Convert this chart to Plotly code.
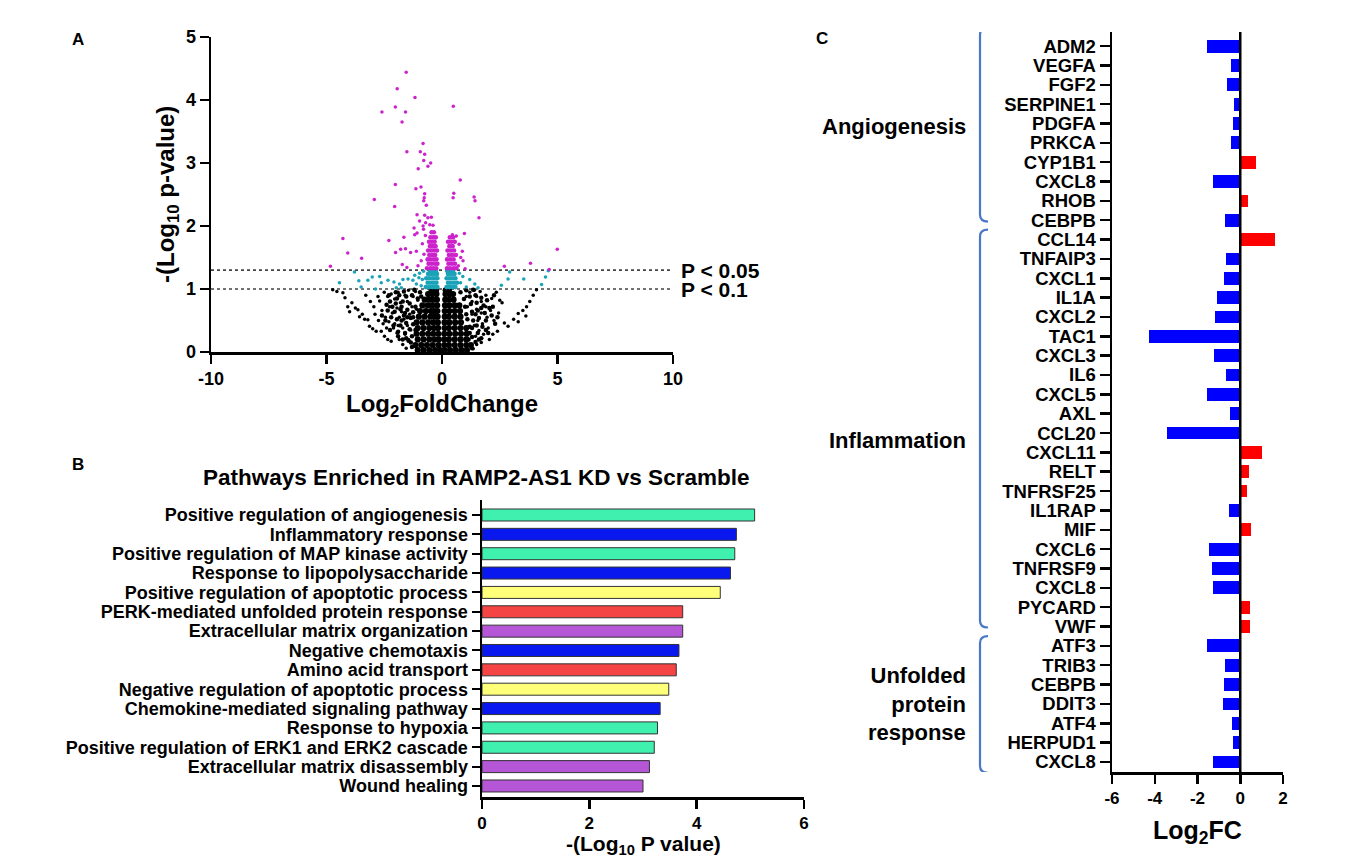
import plotly.graph_objects as go

# ---------------- DATA ----------------
# Panel A: volcano plot points (log2 fold change, -log10 p)
black_core_pts = [
    (-1.05,0.03),(-0.8,0.03),(-0.55,0.03),(-0.3,0.03),(-0.08,0.03),(0.12,0.03),(0.35,0.03),(0.6,0.03),(0.85,0.03),(1.08,0.03),
    (-1.15,0.11),(-0.9,0.11),(-0.65,0.11),(-0.4,0.11),(-0.15,0.11),(0.1,0.11),(0.3,0.11),(0.55,0.11),(0.8,0.11),(1.05,0.11),(1.25,0.11),
    (-1.05,0.2),(-0.8,0.2),(-0.55,0.2),(-0.32,0.2),(-0.14,0.2),(0.1,0.2),(0.3,0.2),(0.55,0.2),(0.8,0.2),(1.05,0.2),
    (-1.1,0.29),(-0.85,0.29),(-0.6,0.29),(-0.38,0.29),(-0.16,0.29),(0.1,0.29),(0.32,0.29),(0.57,0.29),(0.82,0.29),(1.07,0.29),
    (-1.05,0.38),(-0.8,0.38),(-0.55,0.38),(-0.35,0.38),(-0.17,0.38),(0.11,0.38),(0.3,0.38),(0.55,0.38),(0.8,0.38),(1.05,0.38),
    (-1.1,0.47),(-0.85,0.47),(-0.6,0.47),(-0.38,0.47),(-0.18,0.47),(0.11,0.47),(0.32,0.47),(0.57,0.47),(0.82,0.47),
    (-1.0,0.56),(-0.75,0.56),(-0.5,0.56),(-0.32,0.56),(-0.19,0.56),(0.12,0.56),(0.3,0.56),(0.55,0.56),(0.8,0.56),
    (-0.95,0.65),(-0.7,0.65),(-0.48,0.65),(-0.34,0.65),(-0.2,0.65),(0.12,0.65),(0.32,0.65),(0.55,0.65),(0.78,0.65),
    (-0.85,0.74),(-0.62,0.74),(-0.42,0.74),(-0.21,0.74),(0.13,0.74),(0.32,0.74),(0.55,0.74),(0.75,0.74),
    (-0.75,0.83),(-0.55,0.83),(-0.38,0.83),(-0.22,0.83),(0.14,0.83),(0.3,0.83),(0.5,0.83),
    (-0.6,0.92),(-0.42,0.92),(-0.24,0.92),(0.15,0.92),(0.32,0.92),(0.48,0.92),
    (-0.45,0.98),(-0.26,0.98),(0.16,0.98),(0.3,0.98),
]
black_mid_pts = [
    (-1.3,0.08),(-1.45,0.18),(-1.3,0.25),(-1.6,0.3),(-1.4,0.36),(-1.25,0.44),(-1.55,0.46),(-1.8,0.42),
    (-1.35,0.54),(-1.65,0.58),(-1.95,0.52),(-2.2,0.55),(-1.25,0.63),(-1.5,0.67),(-1.8,0.68),(-2.05,0.64),
    (-2.35,0.66),(-1.15,0.72),(-1.4,0.77),(-1.7,0.8),(-2.0,0.77),(-2.25,0.8),(-1.05,0.85),(-1.3,0.9),
    (-1.55,0.88),(-1.85,0.9),(-0.95,0.95),(-1.2,0.99),(-1.7,0.2),(-1.9,0.32),(-2.1,0.42),(-2.45,0.5),
    (-1.15,0.35),(-0.9,0.88),(-2.6,0.58),(-2.4,0.75),(-2.15,0.72),(-1.95,0.85),(-1.75,0.72),(-1.6,0.62),
    (-1.75,0.5),(-1.5,0.55),(-1.25,0.55),(-2.25,0.35),(-1.9,0.25),(-1.55,0.22),(-1.35,0.15),(-2.0,0.95),
    (-1.65,0.96),(-2.3,0.9),
    (1.3,0.06),(1.45,0.16),(1.3,0.24),(1.55,0.3),(1.3,0.38),(1.5,0.42),(1.75,0.4),(1.1,0.52),
    (1.35,0.5),(1.6,0.54),(1.9,0.5),(1.05,0.6),(1.3,0.64),(1.55,0.66),(1.85,0.62),(2.15,0.58),
    (1.0,0.72),(1.25,0.76),(1.5,0.78),(1.8,0.74),(2.05,0.7),(0.95,0.84),(1.2,0.88),(1.45,0.9),
    (1.7,0.86),(0.8,0.95),(1.05,0.98),(1.35,0.99),(2.0,0.3),(2.3,0.45),(1.7,0.22),(1.2,0.4),
    (1.45,0.6),(1.7,0.7),(1.95,0.82),(2.2,0.72),(1.2,0.3),(1.6,0.2),(2.4,0.55),(1.9,0.35),
    (1.15,0.2),(2.25,0.9),
]
black_sparse_pts = [
    (-4.73,0.99),(-4.55,0.96),(-4.29,0.94),(-4.2,0.86),(-4.08,0.72),(-4.0,0.64),(-3.9,0.78),(-3.75,0.7),
    (-3.64,0.67),(-3.57,0.56),(-3.45,0.6),(-3.35,0.52),(-3.21,0.51),(-3.14,0.41),(-3.0,0.37),(-2.85,0.33),
    (-2.63,0.33),(-2.49,0.25),(-2.35,0.2),(-2.2,0.17),(-3.3,0.9),(-3.1,0.8),(-2.95,0.72),(-2.77,0.88),
    (-2.7,0.81),(-2.6,0.66),(-2.45,0.55),(-2.27,0.72),(-2.15,0.62),(-2.05,0.45),(-1.95,0.3),(-1.85,0.2),
    (-1.7,0.12),(-1.55,0.06),(-2.5,0.95),(-2.35,0.88),(-2.2,0.92),(-2.05,0.84),(-1.9,0.95),(-1.8,0.78),
    (-1.95,0.7),(-1.75,0.64),(-1.6,0.9),(-1.5,0.8),(-1.65,0.52),(-1.85,0.55),(-2.3,0.48),(-2.1,0.38),
    (-1.9,0.42),(-1.7,0.38),(-1.6,0.28),(-1.5,0.42),(-1.45,0.2),(-1.4,0.6),(-1.3,0.72),(-1.25,0.88),
    (-1.15,0.96),(-1.05,0.82),(-1.1,0.68),(-1.45,0.98),(-1.35,0.35),(-2.4,0.38),(-2.55,0.45),(-2.75,0.5),
    (-2.9,0.6),
    (1.35,0.05),(1.5,0.12),(1.45,0.25),(1.6,0.34),(1.4,0.42),(1.55,0.5),(1.75,0.45),(1.3,0.6),
    (1.5,0.68),(1.7,0.62),(1.95,0.55),(1.3,0.8),(1.5,0.88),(1.7,0.8),(1.9,0.72),(2.1,0.66),
    (1.2,0.95),(1.4,0.98),(1.65,0.96),(1.9,0.9),(2.15,0.85),(2.35,0.95),(1.1,0.72),(1.05,0.88),
    (1.8,0.28),(2.0,0.38),(2.25,0.5),(2.45,0.62),(2.6,0.78),
    (4.09,0.99),(3.95,0.9),(3.8,0.8),(3.66,0.72),(3.63,0.57),(3.5,0.66),(3.3,0.61),(3.3,0.48),
    (3.1,0.52),(2.86,0.41),(2.7,0.46),(2.5,0.82),(2.2,0.28),(2.4,0.33),(2.05,0.2),(1.7,0.15),
]
cyan_core_pts = [
    (-0.7,1.03),(-0.55,1.03),(-0.42,1.03),(-0.3,1.03),(-0.2,1.03),(0.2,1.03),(0.32,1.03),(0.45,1.03),(0.58,1.03),
    (-0.62,1.1),(-0.48,1.1),(-0.36,1.1),(-0.24,1.1),(0.26,1.1),(0.38,1.1),(0.52,1.1),(0.65,1.1),
    (-0.68,1.17),(-0.55,1.17),(-0.42,1.17),(-0.3,1.17),(-0.2,1.17),(0.2,1.17),(0.32,1.17),(0.45,1.17),(0.58,1.17),
    (-0.6,1.24),(-0.46,1.24),(-0.34,1.24),(-0.22,1.24),(0.26,1.24),(0.4,1.24),(0.54,1.24),
    (-0.52,1.29),(-0.38,1.29),(-0.26,1.29),(0.22,1.29),(0.34,1.29),(0.48,1.29),
]
cyan_sparse_pts = [
    (-4.44,1.1),(-3.79,1.27),(-3.6,1.13),(-3.5,1.03),(-3.21,1.14),(-3.02,1.19),(-2.7,1.2),(-2.63,1.1),
    (-2.88,1.0),(-2.34,1.14),(-2.08,1.11),(-1.84,1.08),(-1.98,1.02),(-1.69,1.15),(-1.47,1.16),(-1.26,1.14),
    (-1.18,1.22),(-1.11,1.08),(-0.97,1.25),(-1.76,1.02),(-0.9,1.05),(-0.85,1.15),(-1.0,1.18),(-0.8,1.28),
    (1.2,1.15),(1.42,1.08),(1.56,1.02),(1.05,1.03),(0.9,1.2),(0.8,1.1),(0.75,1.25),(2.57,1.06),
    (2.86,1.16),(2.93,1.27),(3.54,1.16),(4.31,1.07),(4.48,1.19),(4.6,1.29),
]
magenta_core_pts = [
    (-0.65,1.33),(-0.5,1.33),(-0.38,1.33),(-0.25,1.33),(-0.58,1.4),(-0.44,1.4),(-0.3,1.4),(-0.2,1.4),
    (-0.62,1.47),(-0.5,1.47),(-0.36,1.47),(-0.24,1.47),(-0.55,1.54),(-0.42,1.54),(-0.3,1.54),
    (-0.6,1.61),(-0.47,1.61),(-0.34,1.61),(-0.22,1.61),(-0.52,1.68),(-0.4,1.68),(-0.28,1.68),
    (-0.56,1.75),(-0.44,1.75),(-0.32,1.75),(-0.5,1.82),(-0.38,1.82),(-0.27,1.82),(-0.45,1.9),(-0.35,1.9),
    (0.22,1.33),(0.35,1.33),(0.5,1.33),(0.62,1.33),(0.28,1.4),(0.42,1.4),(0.56,1.4),
    (0.22,1.47),(0.36,1.47),(0.5,1.47),(0.3,1.54),(0.44,1.54),(0.6,1.54),(0.24,1.61),(0.38,1.61),(0.52,1.61),
    (0.32,1.68),(0.46,1.68),(0.26,1.75),(0.4,1.75),(0.55,1.75),(0.34,1.82),(0.48,1.82),
]
magenta_sparse_pts = [
    (-1.55,4.44),(-1.94,4.18),(-1.17,4.04),(-2.02,3.89),(-1.58,3.81),(-2.6,3.81),(-1.73,3.65),(0.49,3.9),
    (-0.82,3.31),(-1.52,3.18),(-0.94,3.18),(-0.75,3.14),(-0.79,3.04),(-0.49,3.0),(-0.61,2.95),(-1.03,2.91),
    (0.79,2.73),(-2.02,2.66),(-1.13,2.59),(-0.91,2.62),(0.51,2.52),(0.48,2.45),(1.39,2.46),(1.43,2.4),
    (-0.75,2.51),(-0.77,2.45),(-0.79,2.4),(-2.93,2.42),(-2.05,2.31),(-0.68,2.33),(1.6,2.13),(-1.08,2.18),
    (-0.75,2.17),(-0.61,2.13),(-0.46,2.14),(-0.97,2.08),(-0.71,2.05),(-0.53,2.02),(-0.39,2.01),(-1.21,1.97),
    (-0.82,2.0),(-4.29,1.8),(-2.3,1.77),(-1.65,1.82),(-1.18,1.86),(-1.08,1.89),(0.45,1.86),(0.62,1.84),
    (0.97,1.88),(-4.08,1.57),(-3.48,1.49),(-2.01,1.58),(-1.79,1.63),(-1.58,1.64),(-1.36,1.58),(-1.11,1.6),
    (-1.72,1.39),(-1.52,1.34),(-1.04,1.37),(-4.83,1.36),(2.7,1.36),(3.83,1.41),(4.99,1.63),(4.64,1.31),
    (0.81,1.5),(0.88,1.6),(0.74,1.71),(0.91,1.45),(1.0,1.32),(0.71,1.37),(-0.85,1.72),(-0.9,1.45),
    (-0.78,1.55),(-0.72,1.85),(-0.8,1.95),
]
a_xticks = [-10, -5, 0, 5, 10]
a_yticks = [0, 1, 2, 3, 4, 5]
threshold_values = [1.3, 1.0]
threshold_labels = ["P < 0.05", "P < 0.1"]

# Panel B: enriched pathways
pathways = [
    "Positive regulation of angiogenesis", "Inflammatory response",
    "Positive regulation of MAP kinase activity", "Response to lipopolysaccharide",
    "Positive regulation of apoptotic process", "PERK-mediated unfolded protein response",
    "Extracellular matrix organization", "Negative chemotaxis", "Amino acid transport",
    "Negative regulation of apoptotic process", "Chemokine-mediated signaling pathway",
    "Response to hypoxia", "Positive regulation of ERK1 and ERK2 cascade",
    "Extracellular matrix disassembly", "Wound healing",
]
pathway_logp = [5.08, 4.74, 4.71, 4.63, 4.44, 3.74, 3.74, 3.67, 3.62, 3.48, 3.32, 3.27, 3.21, 3.12, 3.00]
pathway_group = ["angio", "inflam", "angio", "inflam", "apop", "upr", "ecm", "inflam", "upr",
                 "apop", "inflam", "angio", "angio", "ecm", "ecm"]
group_colors = {"angio": "#3FF0AE", "inflam": "#0A18F0", "apop": "#FFFF7A", "upr": "#F54444", "ecm": "#B456D6"}
b_xticks = [0, 2, 4, 6]

# Panel C: gene log2 fold changes
genes = ["ADM2", "VEGFA", "FGF2", "SERPINE1", "PDGFA", "PRKCA", "CYP1B1", "CXCL8", "RHOB", "CEBPB",
         "CCL14", "TNFAIP3", "CXCL1", "IL1A", "CXCL2", "TAC1", "CXCL3", "IL6", "CXCL5", "AXL",
         "CCL20", "CXCL11", "RELT", "TNFRSF25", "IL1RAP", "MIF", "CXCL6", "TNFRSF9", "CXCL8", "PYCARD",
         "VWF", "ATF3", "TRIB3", "CEBPB", "DDIT3", "ATF4", "HERPUD1", "CXCL8"]
log2fc = [-1.55, -0.44, -0.61, -0.31, -0.34, -0.41, 0.75, -1.27, 0.36, -0.73,
          1.61, -0.66, -0.77, -1.09, -1.19, -4.27, -1.25, -0.66, -1.56, -0.47,
          -3.45, 1.02, 0.39, 0.33, -0.52, 0.50, -1.48, -1.30, -1.27, 0.45,
          0.47, -1.56, -0.72, -0.75, -0.83, -0.39, -0.34, -1.27]
gene_groups = [("Angiogenesis", 0, 9), ("Inflammation", 10, 30), ("Unfolded<br>protein<br>response", 31, 37)]
c_xticks = [-6, -4, -2, 0, 2]

# ---------------- FIGURE ----------------
W, H = 1357, 859
def px(x): return x / W
def py(y): return 1 - y / H

ARIAL = "Liberation Sans, Arial, sans-serif"

def tlabels(vals):
    return [str(v) for v in vals]

fig = go.Figure()

def add_pts(pts, color, size, xa="x", ya="y"):
    fig.add_trace(go.Scatter(x=[p[0] for p in pts], y=[p[1] for p in pts], mode="markers",
                             marker=dict(color=color, size=size, line=dict(width=0)),
                             xaxis=xa, yaxis=ya, showlegend=False, hoverinfo="skip"))

add_pts(black_sparse_pts, "#000000", 3.5)
add_pts(black_mid_pts, "#000000", 4.5)
add_pts(black_core_pts, "#000000", 6.2)
add_pts(cyan_sparse_pts, "#1AA3B8", 3.5)
add_pts(cyan_core_pts, "#1AA3B8", 4.6)
add_pts(magenta_sparse_pts, "#CC22CC", 3.5)
add_pts(magenta_core_pts, "#CC22CC", 4.6)

# Panel B bars
fig.add_trace(go.Bar(
    x=pathway_logp, y=list(range(len(pathways))), orientation="h",
    marker=dict(color=[group_colors[g] for g in pathway_group], line=dict(color="#333333", width=1)),
    width=0.62, xaxis="x2", yaxis="y2", showlegend=False, hoverinfo="skip"))

# Panel C bars
fig.add_trace(go.Bar(
    x=log2fc, y=list(range(len(genes))), orientation="h",
    marker=dict(color=["#FF0000" if v > 0 else "#0000FF" for v in log2fc], line=dict(width=0)),
    width=0.66, xaxis="x3", yaxis="y3", showlegend=False, hoverinfo="skip"))

axis_common = dict(showgrid=False, zeroline=False, showline=True, linecolor="black",
                   ticks="outside", tickcolor="black", fixedrange=True, automargin=False)

fig.update_layout(
    width=W, height=H, autosize=False,
    margin=dict(l=0, r=0, t=0, b=0),
    paper_bgcolor="white", plot_bgcolor="white",
    bargap=0,
    xaxis=dict(domain=[px(211), px(673)], range=[-10, 10], tickvals=a_xticks, ticktext=tlabels(a_xticks),
               linewidth=2.5, tickwidth=2.5, ticklen=9, anchor="y",
               tickfont=dict(family=ARIAL, size=18, color="black", weight=700), **axis_common),
    yaxis=dict(domain=[py(352), py(37)], range=[0, 5], tickvals=a_yticks, ticktext=tlabels(a_yticks),
               linewidth=2.5, tickwidth=2.5, ticklen=9, anchor="x",
               tickfont=dict(family=ARIAL, size=18, color="black", weight=700), **axis_common),
    xaxis2=dict(domain=[px(482), px(804)], range=[0, 6], tickvals=b_xticks, ticktext=tlabels(b_xticks),
                linewidth=2.5, tickwidth=2.5, ticklen=9, anchor="y2",
                tickfont=dict(family=ARIAL, size=17, color="black", weight=700), **axis_common),
    yaxis2=dict(domain=[py(797), py(500)], range=[14.57, -0.775],
                tickvals=list(range(len(pathways))), ticktext=pathways,
                linewidth=2.5, tickwidth=2, ticklen=8, anchor="x2",
                tickfont=dict(family=ARIAL, size=18, color="black", weight=700), **axis_common),
    xaxis3=dict(domain=[px(1112), px(1283)], range=[-6, 2], tickvals=c_xticks, ticktext=tlabels(c_xticks),
                linewidth=2.5, tickwidth=2.5, ticklen=9, anchor="y3",
                tickfont=dict(family=ARIAL, size=17, color="black", weight=700), **axis_common),
    yaxis3=dict(domain=[py(772), py(32)], range=[37.52, -0.73],
                tickvals=list(range(len(genes))), ticktext=genes,
                linewidth=2.5, tickwidth=2.5, ticklen=10, anchor="x3",
                tickfont=dict(family=ARIAL, size=18.5, color="black", weight=700), **axis_common),
)

shapes = []
# Threshold dotted lines (panel A)
for v in threshold_values:
    shapes.append(dict(type="line", xref="x", yref="y", x0=-10, x1=10, y0=v, y1=v,
                       line=dict(color="#444444", width=1.6, dash="dot"), layer="below"))
# Zero line panel C
shapes.append(dict(type="line", xref="x3", yref="y3 domain", x0=0, x1=0, y0=0, y1=1,
                   line=dict(color="black", width=2.5)))
# Brackets panel C
bracket_spans = [(-0.93, 9.07), (9.48, 30.05), (30.5, 37.56)]
bx0, bx1 = px(980), px(988)
for t, b in bracket_spans:
    path = (f"M {bx1},{t} Q {bx0},{t} {bx0},{t + 0.35} L {bx0},{b - 0.35} Q {bx0},{b} {bx1},{b}")
    shapes.append(dict(type="path", xref="paper", yref="y3", path=path,
                       line=dict(color="#4A78C8", width=2.2)))
fig.update_layout(shapes=shapes)

ann = []
def text(x, y, s, size, xanchor="center", yanchor="middle", angle=0, xref="paper", yref="paper", align="center"):
    ann.append(dict(x=x, y=y, xref=xref, yref=yref, text=s, showarrow=False, xanchor=xanchor,
                    yanchor=yanchor, textangle=angle, align=align,
                    font=dict(family=ARIAL, size=size, color="black", weight=700)))

# Panel letters
text(px(78), py(39), "A", 17)
text(px(78), py(464), "B", 17)
text(px(822), py(38), "C", 17)
# Panel A titles
text(px(168), py(195), "-(Log<sub>10</sub> p-value)", 24, angle=-90)
text(px(442), py(405), "Log<sub>2</sub>FoldChange", 24)
for v, lab in zip(threshold_values, threshold_labels):
    text(px(679), v, lab, 21, xanchor="left", yref="y")
# Panel B titles
text(px(476), py(478), "Pathways Enriched in RAMP2-AS1 KD vs Scramble", 22.5)
text(px(643), py(845), "-(Log<sub>10</sub> P value)", 21)
# Panel C titles
text(px(1197), py(832), "Log<sub>2</sub>FC", 25)
label_pos = [4.15, 20.4, 34.0]
for (name, s, e), yp in zip(gene_groups, label_pos):
    text(px(968), yp, name, 22, xanchor="right", yref="y3", align="right")

fig.update_layout(annotations=ann)
fig.write_html("out.html", config={"displayModeBar": False, "staticPlot": True},
               post_script="document.body.style.margin='0px';document.body.style.overflow='hidden';")
